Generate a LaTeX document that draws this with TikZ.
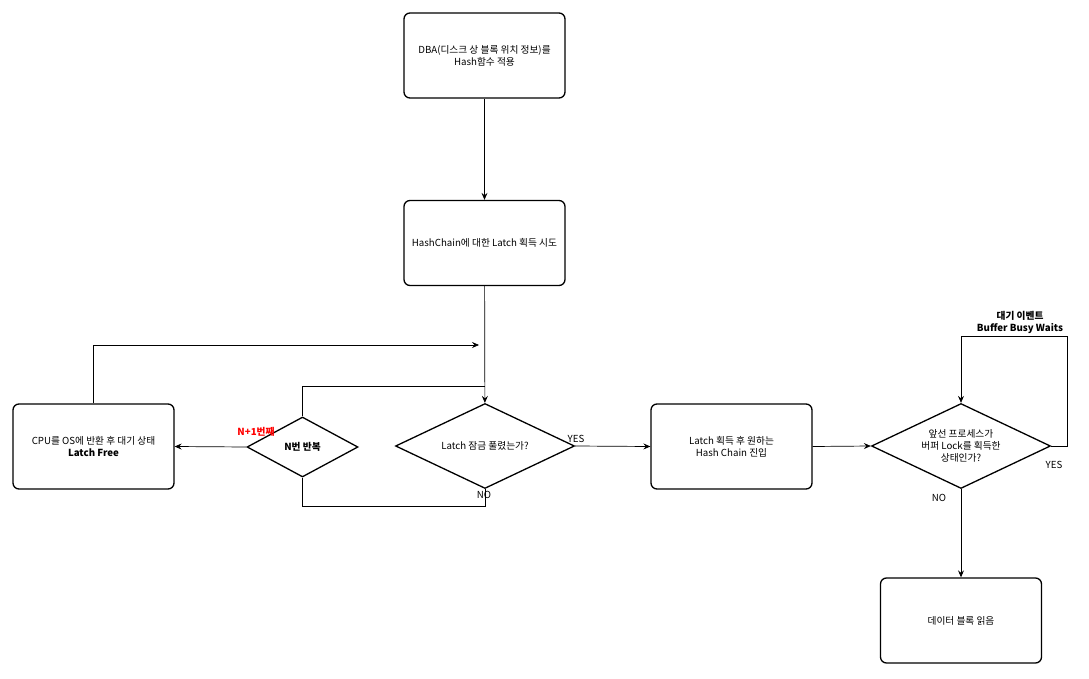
\documentclass[tikz,border=0pt]{standalone}
\usepackage{fontspec}
\setmainfont{Noto Sans CJK KR}
\usetikzlibrary{arrows.meta,shapes.geometric,calc}
\begin{document}
\begin{tikzpicture}[x=1pt,y=-1pt,
  every node/.style={font=\fontsize{9.7}{12.2}\selectfont},
  proc/.style={draw,line width=1.3pt,rounded corners=6pt,minimum width=161pt,minimum height=85pt,align=center,inner sep=0pt},
  dec/.style={draw,line width=1.3pt,diamond,aspect=2.1,minimum width=179pt,minimum height=85pt,align=center,inner sep=0pt},
  decs/.style={draw,line width=1.3pt,diamond,aspect=1.8,minimum width=111pt,minimum height=60pt,align=center,inner sep=0pt},
  conn/.style={line width=0.7pt},
  arr/.style={conn,-{Stealth[length=7pt,width=6pt,inset=2.5pt]}},
  lbl/.style={inner sep=0pt,font=\fontsize{9.7}{11.5}\selectfont}
]
\useasboundingbox (0,0) rectangle (1089,679);
\fill[white] (0,0) rectangle (1089,679);

\node[proc] (b1) at (484.5,55.5) {DBA(디스크 상 블록 위치 정보)를\\Hash함수 적용};
\node[proc] (b2) at (484.5,243) {HashChain에 대한 Latch 획득 시도};
\node[dec] (d1) at (485,446) {Latch 잠금 풀렸는가?};
\node[decs] (n) at (302.5,447) {\textbf{N번 반복}};
\node[proc] (cpu) at (93.5,446.5) {CPU를 OS에 반환 후 대기 상태\\\textbf{Latch Free}};
\node[proc] (b3) at (731.5,446.5) {Latch 획득 후 원하는\\Hash Chain 진입};
\node[dec] (d2) at (961,446) {앞선 프로세스가\\버퍼 Lock를 획득한\\상태인가?};
\node[proc] (fin) at (961,620.5) {데이터 블록 읽음};

\coordinate (j) at (485,386);
\coordinate (nob) at (485,506);
\coordinate (ret) at (479,345);
\coordinate (lr) at (1067,336);

\draw[arr] (b1) -- (b2);
\draw[arr] (b2) -- (d1);
\draw[conn] (n.north) |- (j);
\draw[conn] (d1.south) -- (nob) -| (n.south);
\draw[arr] (n.west) -- (cpu.east);
\draw[arr] (cpu.north) |- (ret);
\draw[arr] (d1.east) -- (b3.west);
\draw[arr] (b3.east) -- (d2.west);
\draw[arr] (d2.east) -| (lr) -| (d2.north);
\draw[arr] (d2.south) -- (fin.north);

\node[lbl] (lno1) at (484,495) {NO};
\node[lbl] (lyes1) at (576,439) {YES};
\node[lbl,text=red] (lnp) at (256,432) {\textbf{N+1번째}};
\node[lbl,align=center] (lev) at (1020,322.5) {\textbf{대기 이벤트}\\\textbf{Buffer Busy Waits}};
\node[lbl] (lyes2) at (1054,465) {YES};
\node[lbl] (lno2) at (939,498) {NO};
\end{tikzpicture}
\end{document}
